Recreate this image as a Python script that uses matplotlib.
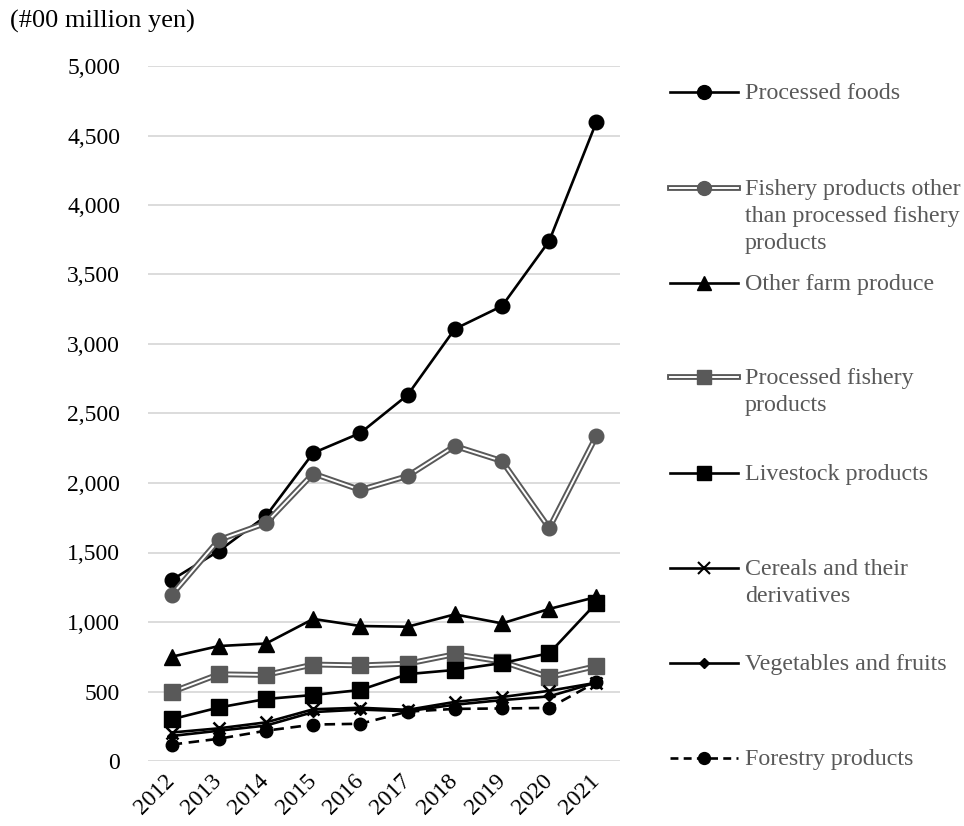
import matplotlib
matplotlib.use("Agg")
import matplotlib.pyplot as plt
from matplotlib.lines import Line2D
from matplotlib.ticker import FuncFormatter, MultipleLocator

years = ["2012", "2013", "2014", "2015", "2016", "2017", "2018", "2019", "2020", "2021"]

processed_foods = [1302, 1511, 1763, 2216, 2360, 2633, 3108, 3273, 3741, 4597]
fishery_other = [1194, 1590, 1712, 2068, 1950, 2050, 2266, 2158, 1676, 2338]
other_farm = [750, 827, 845, 1022, 971, 966, 1055, 990, 1094, 1180]
processed_fishery = [496, 624, 619, 694, 688, 700, 768, 715, 604, 683]
livestock = [300, 385, 446, 475, 511, 625, 655, 705, 775, 1137]
cereals = [205, 235, 278, 372, 383, 368, 425, 460, 505, 563]
vegetables = [180, 218, 255, 352, 370, 358, 405, 438, 465, 565]
forestry = [118, 160, 218, 262, 268, 355, 375, 378, 382, 568]

labels = [
    "Processed foods",
    "Fishery products other\nthan processed fishery\nproducts",
    "Other farm produce",
    "Processed fishery\nproducts",
    "Livestock products",
    "Cereals and their\nderivatives",
    "Vegetables and fruits",
    "Forestry products",
]

GRAY = "#595959"
TXT = "#595959"

# style per series: (marker, marker size, marker colour, double line?, linestyle)
styles = [
    ("o", 10.5, "black", False, "-"),
    ("o", 10.5, GRAY, True, "-"),
    ("^", 11, "black", False, "-"),
    ("s", 11, GRAY, True, "-"),
    ("s", 11, "black", False, "-"),
    ("x", 9, "black", False, "-"),
    ("D", 5, "black", False, "-"),
    ("o", 9, "black", False, "--"),
]
series = [processed_foods, fishery_other, other_farm, processed_fishery,
          livestock, cereals, vegetables, forestry]

plt.rcParams["font.family"] = ["Liberation Serif", "DejaVu Serif"]
W, H = 964, 826
fig = plt.figure(figsize=(W / 100, H / 100), dpi=100)
ax = fig.add_axes([148 / W, 1 - 761 / H, 472 / W, 695 / H])

x = list(range(len(years)))
for vals, (mk, ms, mc, double, ls) in zip(series, styles):
    if double:
        ax.plot(x, vals, color=GRAY, lw=4.2, solid_capstyle="butt", zorder=2)
        ax.plot(x, vals, color="white", lw=1.4, zorder=2)
        ax.plot(x, vals, ls="none", marker=mk, ms=ms, color=mc, zorder=2)
    else:
        ax.plot(x, vals, color="black", lw=1.9, ls=ls, dashes=(4, 2.5) if ls == "--" else (None, None),
                marker=mk, ms=ms, mfc=mc, mec=mc, mew=1.8 if mk == "x" else 1, zorder=2)

ax.set_xlim(-0.5, 9.5)
ax.set_ylim(0, 5000)
ax.yaxis.set_major_locator(MultipleLocator(500))
ax.yaxis.set_major_formatter(FuncFormatter(lambda v, p: f"{int(v):,}"))
ax.set_xticks(x)
ax.set_xticklabels(years, rotation=45, ha="right", va="center", rotation_mode="anchor")
ax.tick_params(axis="both", length=0, labelsize=17, labelcolor="black")
ax.tick_params(axis="y", pad=20)
ax.tick_params(axis="x", pad=12)
ax.grid(axis="y", color="#d9d9d9", lw=1.3)
ax.set_axisbelow(True)
for s in ax.spines.values():
    s.set_visible(False)

fig.text(10 / W, 1 - 21 / H, "(#00 million yen)", fontsize=19, va="center", ha="left")

# legend drawn by hand, Excel-like fixed spacing
leg_y = [92, 188, 283, 377, 473, 568, 663, 758]
for ly, lab, (mk, ms, mc, double, ls) in zip(leg_y, labels, styles):
    yf = 1 - ly / H
    xs = [670 / W, 738 / W]
    if double:
        fig.add_artist(Line2D(xs, [yf, yf], color=GRAY, lw=4.2, transform=fig.transFigure))
        fig.add_artist(Line2D(xs, [yf, yf], color="white", lw=1.4, transform=fig.transFigure))
    else:
        fig.add_artist(Line2D(xs, [yf, yf], color="black", lw=1.9, ls=ls,
                              dashes=(3, 2) if ls == "--" else (None, None),
                              transform=fig.transFigure))
    fig.add_artist(Line2D([704 / W], [yf], ls="none", marker=mk, ms=ms * 0.95,
                          mfc=mc, mec=mc, mew=1.5 if mk == "x" else 1,
                          transform=fig.transFigure))
    fig.text(745 / W, yf + 9 / H, lab, fontsize=17.3, color=TXT, va="top", ha="left",
             linespacing=1.36)

fig.savefig("out.png", dpi=100)
